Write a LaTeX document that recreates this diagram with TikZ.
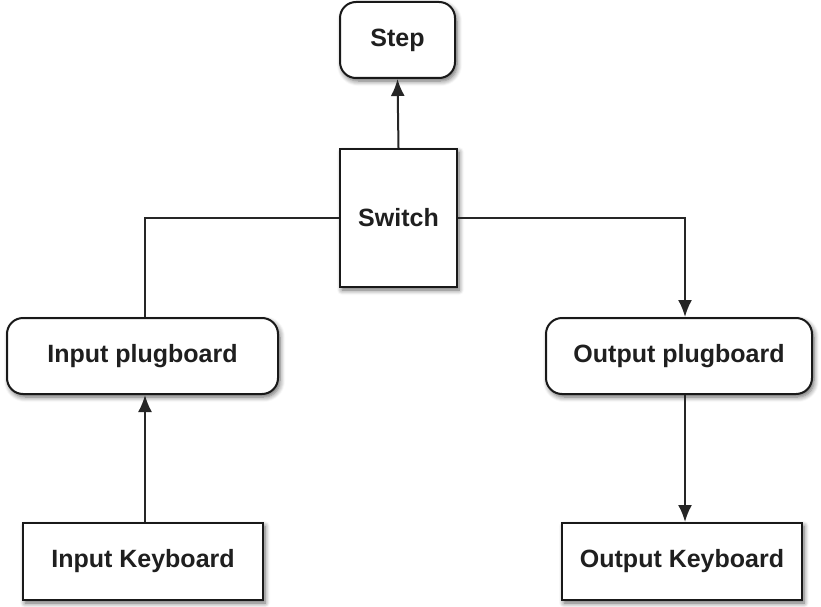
\documentclass[tikz,border=0pt]{standalone}
\usepackage{fontspec}
\setmainfont{Liberation Sans}
\usetikzlibrary{arrows.meta,shadows.blur}
\begin{document}
\begin{tikzpicture}[x=1pt,y=-1pt,
  box/.style={draw=black!90, line width=2pt, fill=white, inner sep=0pt,
    font=\fontsize{25}{30}\selectfont\bfseries, text=black!88,
    blur shadow={shadow xshift=2pt, shadow yshift=-3pt, shadow blur steps=6, shadow blur radius=5pt, shadow opacity=60}},
  roundbox/.style={box, rounded corners=16pt},
  link/.style={draw=black!85, line width=2pt},
  arr/.style={link, -{Latex[length=17pt,width=14pt]}}]
\useasboundingbox (0,0) rectangle (821,607);

\node[roundbox, minimum width=115pt, minimum height=76pt] (step) at (397.5,40) {Step};
\node[box, minimum width=117pt, minimum height=138pt] (sw) at (398.5,218) {Switch};
\node[roundbox, minimum width=271pt, minimum height=76pt] (ip) at (142.5,356) {Input plugboard};
\node[roundbox, minimum width=266pt, minimum height=76pt] (op) at (679,356) {Output plugboard};
\node[box, minimum width=240pt, minimum height=77pt] (ik) at (143,561.5) {Input Keyboard};
\node[box, minimum width=240pt, minimum height=77pt] (ok) at (682,561.5) {Output Keyboard};

\coordinate (ipin) at ([xshift=2.5pt]ip.north);
\coordinate (opin) at ([xshift=6pt]op.north);

\draw[arr] (sw.north) -- (step.south);
\draw[link] (sw.west) -| (ipin);
\draw[arr] (sw.east) -| (opin);
\draw[arr] ([xshift=2pt]ik.north) -- ([xshift=2pt]ik.north |- ip.south);
\draw[arr] ([xshift=6pt]op.south) -- ([xshift=6pt]op.south |- ok.north);
\end{tikzpicture}
\end{document}
